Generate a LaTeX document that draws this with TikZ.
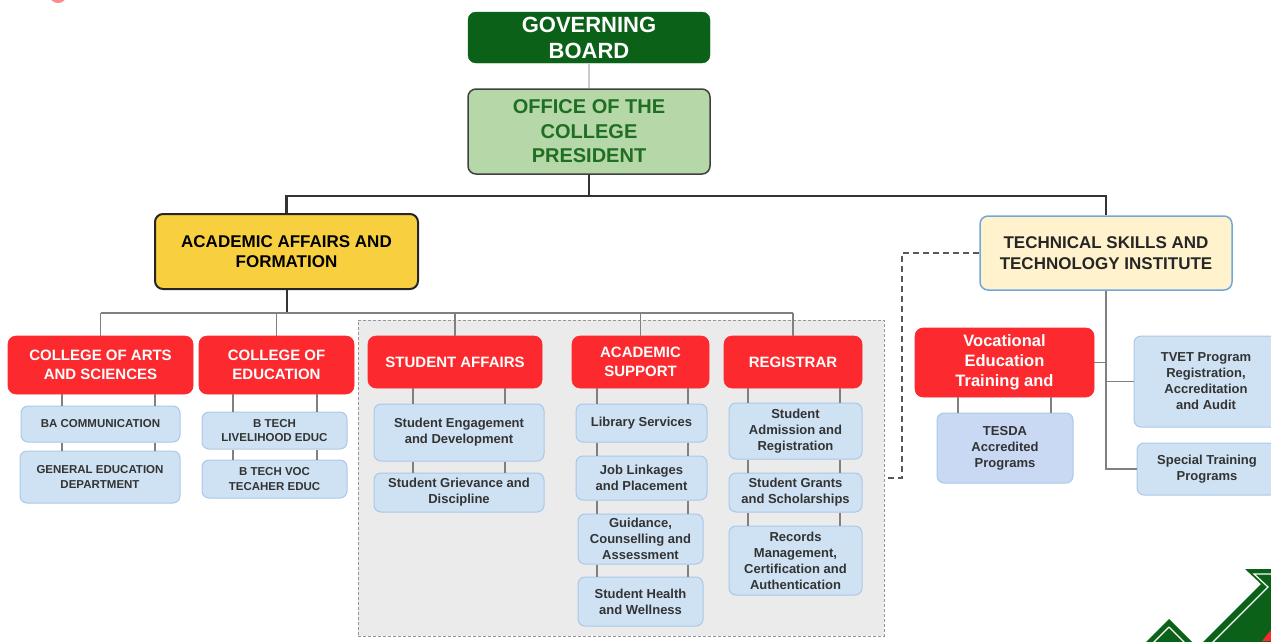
\documentclass[tikz,border=0pt]{standalone}
\usepackage{fontspec}
\setmainfont{Liberation Sans}
\usetikzlibrary{calc}

\definecolor{govgreen}{RGB}{11,97,24}
\definecolor{officefill}{RGB}{182,215,168}
\definecolor{officetext}{RGB}{30,110,35}
\definecolor{afyellow}{RGB}{248,208,63}
\definecolor{techfill}{RGB}{255,242,204}
\definecolor{techline}{RGB}{111,168,220}
\definecolor{unitred}{RGB}{252,42,46}
\definecolor{progfill}{RGB}{207,226,243}
\definecolor{progline}{RGB}{169,200,232}
\definecolor{tesdafill}{RGB}{201,217,244}
\definecolor{areafill}{RGB}{235,235,235}
\definecolor{arealine}{RGB}{150,150,150}

\begin{document}
\begin{tikzpicture}[x=1pt, y=-1pt,
    box/.style={rounded corners=8pt, align=center, inner sep=2pt},
    govbox/.style={box, fill=govgreen, draw=govgreen, text=white,
      font=\bfseries\fontsize{22}{26}\selectfont},
    officebox/.style={box, fill=officefill, draw=black!75, line width=1.5pt,
      text=officetext, font=\bfseries\fontsize{20}{24.5}\selectfont},
    afbox/.style={box, fill=afyellow, draw=black!85, line width=2pt,
      font=\bfseries\fontsize{17}{20.5}\selectfont},
    techbox/.style={box, fill=techfill, draw=techline, line width=1.5pt,
      text=black!85, font=\bfseries\fontsize{17}{21}\selectfont},
    unitbox/.style={box, fill=unitred, draw=unitred, line width=0.6pt,
      text=white, font=\bfseries\fontsize{15}{18.5}\selectfont},
    progbox/.style={box, rounded corners=7pt, fill=progfill, draw=progline,
      line width=1pt, text=black!80, font=\bfseries\fontsize{13}{16}\selectfont},
    capsbox/.style={progbox, font=\bfseries\fontsize{11.5}{14.5}\selectfont},
    area/.style={fill=areafill, draw=arealine, dash pattern=on 3pt off 2pt, line width=1pt},
    mainlink/.style={draw=black!80, line width=2.5pt},
    sublink/.style={draw=black!50, line width=1.5pt},
    govlink/.style={draw=black!20, line width=2pt},
    dashlink/.style={draw=black!65, dash pattern=on 6pt off 4pt, line width=1.8pt}]

  \path[use as bounding box] (0,0) rectangle (1271,641);
  \clip (0,0) rectangle (1271,641);

  % shaded group of student services
  \node[area, minimum width=526pt, minimum height=316pt] (studarea) at (621,478) {};

  % top levels
  \node[govbox, minimum width=242pt, minimum height=51pt] (gov) at (589,37.5) {GOVERNING\\BOARD};
  \node[officebox, minimum width=242pt, minimum height=85pt] (office) at (589,131.5) {OFFICE OF THE\\COLLEGE\\PRESIDENT};
  \node[afbox, minimum width=263pt, minimum height=75pt] (academic) at (286.5,251.5) {ACADEMIC AFFAIRS AND\\FORMATION};
  \node[techbox, minimum width=252pt, minimum height=74pt] (tech) at (1106,253) {TECHNICAL SKILLS AND\\TECHNOLOGY INSTITUTE};

  % units
  \node[unitbox, minimum width=185pt, minimum height=58pt] (cas) at (100.5,365) {COLLEGE OF ARTS\\AND SCIENCES};
  \node[unitbox, minimum width=155pt, minimum height=58pt] (coe) at (276.5,365) {COLLEGE OF\\EDUCATION};
  \node[unitbox, minimum width=174pt, minimum height=52pt] (sa) at (455,362) {STUDENT AFFAIRS};
  \node[unitbox, minimum width=137pt, minimum height=52pt] (acsup) at (640.5,362) {ACADEMIC\\SUPPORT};
  \node[unitbox, minimum width=138pt, minimum height=52pt] (reg) at (793,362) {REGISTRAR};
  \node[unitbox, minimum width=179pt, minimum height=69pt,
    font=\bfseries\fontsize{16.5}{20}\selectfont] (voc) at (1004.5,362.5) {Vocational\\Education\\Training and};

  % programs and offices
  \node[capsbox, minimum width=159pt, minimum height=36pt] (ba) at (100.5,424) {BA COMMUNICATION};
  \node[capsbox, minimum width=160pt, minimum height=52pt] (gened) at (100,477) {GENERAL EDUCATION\\DEPARTMENT};
  \node[capsbox, minimum width=145pt, minimum height=37pt] (btl) at (274.5,430.5) {B TECH\\LIVELIHOOD EDUC};
  \node[capsbox, minimum width=145pt, minimum height=38pt] (btv) at (274.5,479) {B TECH VOC\\TECAHER EDUC};
  \node[progbox, minimum width=170pt, minimum height=57pt] (se) at (459,432.5) {Student Engagement\\and Development};
  \node[progbox, minimum width=170pt, minimum height=39pt] (sg) at (459,492.5) {Student Grievance and\\Discipline};
  \node[progbox, minimum width=131pt, minimum height=38pt] (lib) at (641.5,423) {Library Services};
  \node[progbox, minimum width=131pt, minimum height=44pt] (job) at (641.5,478) {Job Linkages\\and Placement};
  \node[progbox, minimum width=125pt, minimum height=50pt] (guid) at (640.5,539) {Guidance,\\Counselling and\\Assessment};
  \node[progbox, minimum width=125pt, minimum height=49pt] (health) at (640.5,601.5) {Student Health\\and Wellness};
  \node[progbox, minimum width=133pt, minimum height=56pt] (adm) at (795.5,431) {Student\\Admission and\\Registration};
  \node[progbox, minimum width=133pt, minimum height=39pt] (grants) at (795.5,492.5) {Student Grants\\and Scholarships};
  \node[progbox, minimum width=133pt, minimum height=69pt] (records) at (795.5,560.5) {Records\\Management,\\Certification and\\Authentication};
  \node[progbox, fill=tesdafill, minimum width=136pt, minimum height=70pt] (tesda) at (1005,448) {TESDA\\Accredited\\Programs};
  \node[progbox, minimum width=144pt, minimum height=91pt] (tvet) at (1206,381.5) {TVET Program\\Registration,\\Accreditation\\and Audit};
  \node[progbox, minimum width=140pt, minimum height=52pt] (special) at (1207,469) {Special Training\\Programs};

  % reporting lines
  \draw[govlink] (gov) -- (office);
  \draw[mainlink] (office.south) -- ++(0,21) coordinate (obar);
  \draw[mainlink] (academic.north) |- (obar) -| (tech.north);

  \draw[mainlink, line width=2pt] (academic.south) -- ++(0,23) coordinate (abar);
  \draw[sublink] (abar -| cas.north) -- (abar -| reg.north);
  \foreach \n in {cas,coe,sa,acsup,reg}
    \draw[sublink] (abar -| \n.north) -- (\n.north);

  \draw[sublink] (tech.south) |- (special.west);
  \draw[sublink] (tech.south |- voc.east) -- (voc.east);
  \draw[sublink] (tech.south |- tvet.west) -- (tvet.west);
  \draw[dashlink] (tech.west) -- ++(-77,0) |- (studarea.east);

  % double ties between stacked boxes
  \foreach \a/\b/\xa/\xb in {cas/ba/62/155, ba/gened/62/155,
      coe/btl/233/317, btl/btv/233/317,
      sa/se/413/505, se/sg/413/505,
      acsup/lib/597/688, lib/job/597/688, job/guid/597/688, guid/health/597/688,
      reg/adm/748/840, adm/grants/748/840, grants/records/748/840,
      voc/tesda/958/1051}{
    \foreach \x in {\xa,\xb}{
      \coordinate (p) at (\x,0);
      \draw[sublink] (p |- \a.south) -- (p |- \b.north);
    }
  }

  % corner ornaments
  \fill[unitred!55] (58,-6) circle (9);
  \fill[govgreen] (1245,569) -- (1280,569) -- (1280,650) -- (1195,650) -- (1261,584) -- cycle;
  \draw[white, line width=1.2pt] (1280,574) -- (1254,574) -- (1268,587) -- (1208,647);
  \fill[unitred] (1262,641) -- (1271,630) -- (1271,641) -- cycle;
  \fill[govgreen] (1169,619) -- (1200,650) -- (1138,650) -- cycle;
  \draw[white, line width=1.2pt] (1169,627) -- (1192,650) (1169,627) -- (1146,650);
\end{tikzpicture}
\end{document}
